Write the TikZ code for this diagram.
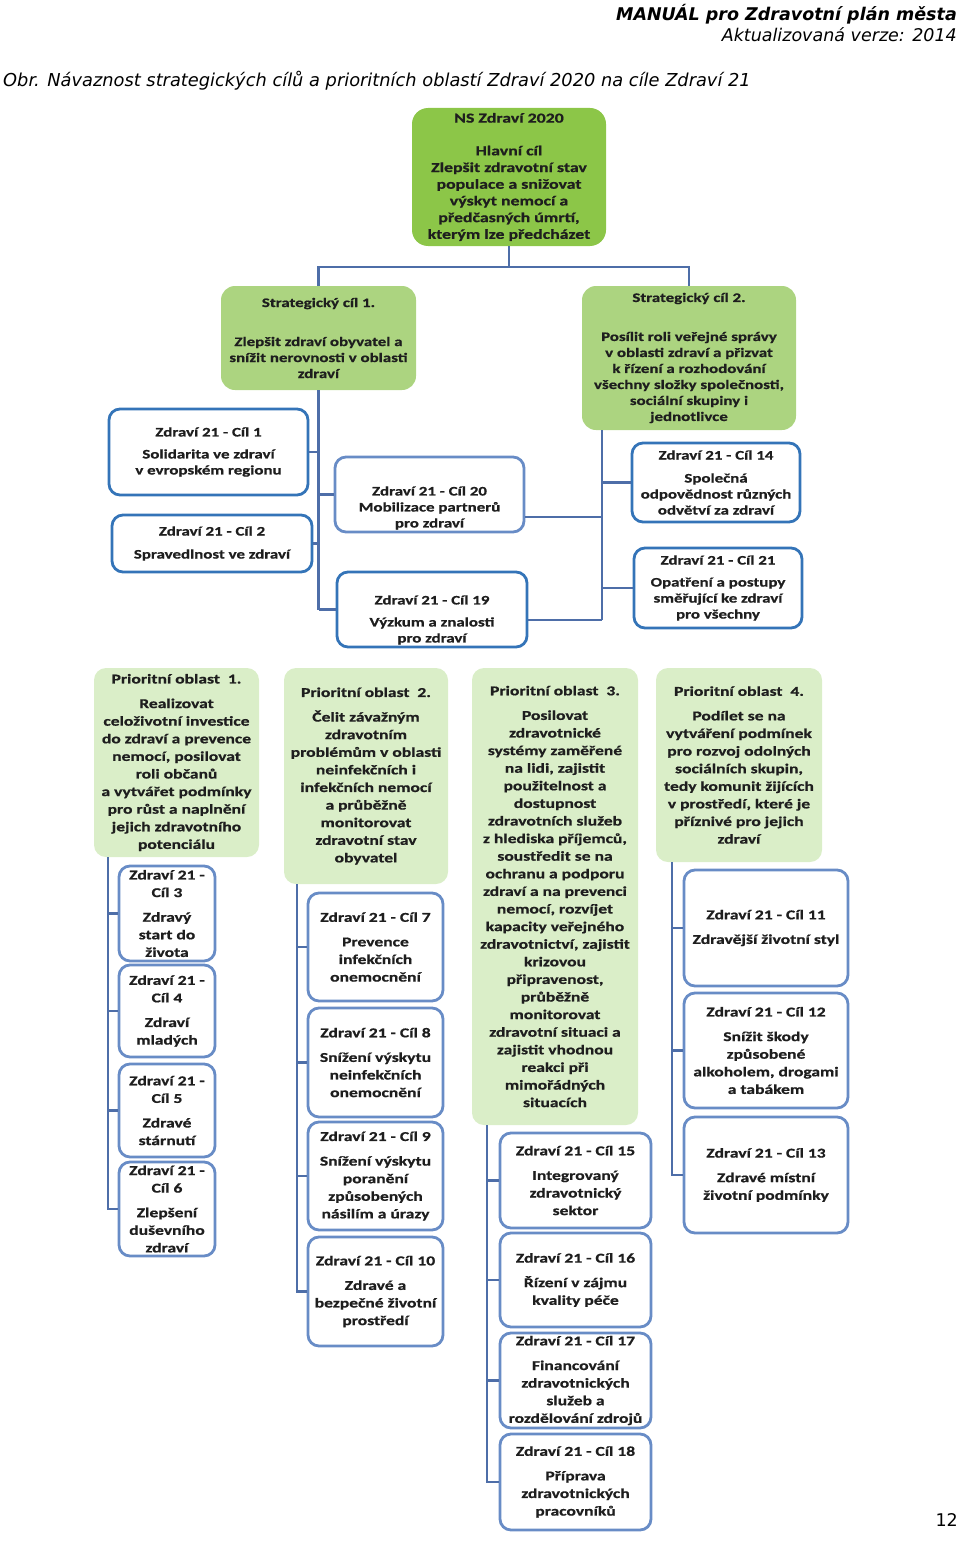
\documentclass[tikz,border=0pt]{standalone}
\usepackage{fontspec}
\setmainfont{Carlito}[FakeStretch=1.3, BoldFeatures={FakeBold=0.8}]
\newfontfamily\verdana{DejaVu Sans}

\definecolor{nszelena}{RGB}{140,198,72}
\definecolor{stzelena}{RGB}{172,212,128}
\definecolor{pozelena}{RGB}{218,238,200}
\definecolor{okraj}{RGB}{52,116,184}
\definecolor{okrajb}{RGB}{104,140,198}
\definecolor{spojnice}{RGB}{78,110,168}
\definecolor{pismo}{RGB}{30,30,30}

\begin{document}
\begin{tikzpicture}[x=1pt,y=-1pt]
\tikzstyle{every node}=[font=\fontsize{13}{16}\selectfont\bfseries, align=center, text=pismo, inner sep=0pt]
\tikzstyle{hlavni}=[fill=nszelena, rounded corners=16pt, font=\fontsize{13.7}{16.7}\selectfont\bfseries]
\tikzstyle{strategie}=[fill=stzelena, rounded corners=14pt]
\tikzstyle{oblast}=[fill=pozelena, rounded corners=12pt, font=\fontsize{13.5}{17.6}\selectfont\bfseries]
\tikzstyle{cil}=[draw=okraj, line width=2.8pt, fill=white, rounded corners=11pt]
\tikzstyle{cilb}=[cil, draw=okrajb, font=\fontsize{13.5}{17.6}\selectfont\bfseries]
\tikzstyle{spoj}=[draw=spojnice, line width=2.6pt]
\tikzstyle{hlavicka}=[text=black, font=\verdana\fontsize{17.5}{20}\selectfont\itshape]

\useasboundingbox (0,0) rectangle (960,1541);

% page header and caption
\node[hlavicka, anchor=base east, font=\verdana\fontsize{17.5}{20}\selectfont\bfseries\itshape] (manual) at (957,21) {MANUÁL pro Zdravotní plán města};
\node[hlavicka, anchor=base east] (verze) at (957,42) {Aktualizovaná verze: 2014};
\node[hlavicka, anchor=base west, font=\verdana\fontsize{17.8}{20}\selectfont\itshape] (obr) at (3,87) {Obr. Návaznost strategických cílů a prioritních oblastí Zdraví 2020 na cíle Zdraví 21};
\node[hlavicka, anchor=base east, font=\verdana\fontsize{17.5}{20}\selectfont] (strana) at (958,1526) {12};

% main goal and strategic goals
\node[hlavni, minimum width=194pt, minimum height=138pt] (ns) at (509,177)
  {NS Zdraví 2020\\[16pt]Hlavní cíl\\Zlepšit zdravotní stav\\populace a snižovat\\výskyt nemocí a\\předčasných úmrtí,\\kterým lze předcházet};
\node[strategie, minimum width=195pt, minimum height=104pt] (s1) at (318.5,338)
  {Strategický cíl 1.\\[23pt]Zlepšit zdraví obyvatel a\\snížit nerovnosti v oblasti\\zdraví};
\node[strategie, minimum width=214pt, minimum height=144pt] (s2) at (689,358)
  {Strategický cíl 2.\\[23pt]Posílit roli veřejné správy\\v oblasti zdraví a přizvat\\k řízení a rozhodování\\všechny složky společnosti,\\sociální skupiny i\\jednotlivce};

% goals of the strategic part
\node[cil, minimum width=199pt, minimum height=86pt] (c1) at (208.5,452)
  {Zdraví 21 - Cíl 1\\[6pt]Solidarita ve zdraví\\v evropském regionu};
\node[cil, minimum width=200pt, minimum height=57pt] (c2) at (212,543.5)
  {Zdraví 21 - Cíl 2\\[7pt]Spravedlnost ve zdraví};
\node[cil, draw=okrajb, minimum width=189pt, minimum height=75pt] (c20) at (429.5,494.5)
  {\rule{0pt}{36pt}Zdraví 21 - Cíl 20\\Mobilizace partnerů\\pro zdraví};
\node[cil, minimum width=190pt, minimum height=75pt] (c19) at (432,609.5)
  {\rule{0pt}{30pt}Zdraví 21 - Cíl 19\\[6pt]Výzkum a znalosti\\pro zdraví};
\node[cil, minimum width=168pt, minimum height=79pt] (c14) at (716,482.5)
  {Zdraví 21 - Cíl 14\\[7pt]Společná\\odpovědnost různých\\odvětví za zdraví};
\node[cil, minimum width=168pt, minimum height=80pt] (c21) at (718,588)
  {Zdraví 21 - Cíl 21\\[6pt]Opatření a postupy\\směřující ke zdraví\\pro všechny};

% priority areas
\node[oblast, minimum width=165pt, minimum height=189pt] (po1) at (176.5,762.5)
  {Prioritní oblast\ \ 1.\\[7pt]Realizovat\\celoživotní investice\\do zdraví a prevence\\nemocí, posilovat\\roli občanů\\a vytvářet podmínky\\pro růst a naplnění\\jejich zdravotního\\potenciálu};
\node[oblast, minimum width=164pt, minimum height=216pt] (po2) at (366,776)
  {Prioritní oblast\ \ 2.\\[7pt]Čelit závažným\\zdravotním\\problémům v oblasti\\neinfekčních i\\infekčních nemocí\\a průběžně\\monitorovat\\zdravotní stav\\obyvatel};
\node[oblast, minimum width=166pt, minimum height=457pt] (po3) at (555,896.5)
  {Prioritní oblast\ \ 3.\\[7pt]Posilovat\\zdravotnické\\systémy zaměřené\\na lidi, zajistit\\použitelnost a\\dostupnost\\zdravotních služeb\\z hlediska příjemců,\\soustředit se na\\ochranu a podporu\\zdraví a na prevenci\\nemocí, rozvíjet\\kapacity veřejného\\zdravotnictví, zajistit\\krizovou\\připravenost,\\průběžně\\monitorovat\\zdravotní situaci a\\zajistit vhodnou\\reakci při\\mimořádných\\situacích};
\node[oblast, minimum width=166pt, minimum height=194pt] (po4) at (739,765)
  {Prioritní oblast\ \ 4.\\[7pt]Podílet se na\\vytváření podmínek\\pro rozvoj odolných\\sociálních skupin,\\tedy komunit žijících\\v prostředí, které je\\příznivé pro jejich\\zdraví};

% goals under priority area 1
\node[cilb, minimum width=96pt, minimum height=95pt] (c3) at (167,913.5) {Zdraví 21 -\\Cíl 3\\[7pt]Zdravý\\start do\\života};
\node[cilb, minimum width=96pt, minimum height=92pt] (c4) at (167,1011) {Zdraví 21 -\\Cíl 4\\[7pt]Zdraví\\mladých};
\node[cilb, minimum width=96pt, minimum height=93pt] (c5) at (167,1110.5) {Zdraví 21 -\\Cíl 5\\[7pt]Zdravé\\stárnutí};
\node[cilb, minimum width=96pt, minimum height=94pt] (c6) at (167,1209) {Zdraví 21 -\\Cíl 6\\[7pt]Zlepšení\\duševního\\zdraví};

% goals under priority area 2
\node[cilb, minimum width=135pt, minimum height=108pt] (c7) at (375.5,947) {Zdraví 21 - Cíl 7\\[7pt]Prevence\\infekčních\\onemocnění};
\node[cilb, minimum width=135pt, minimum height=109pt] (c8) at (375.5,1062.5) {Zdraví 21 - Cíl 8\\[7pt]Snížení výskytu\\neinfekčních\\onemocnění};
\node[cilb, minimum width=135pt, minimum height=108pt] (c9) at (375.5,1176) {Zdraví 21 - Cíl 9\\[7pt]Snížení výskytu\\poranění\\způsobených\\násilím a úrazy};
\node[cilb, minimum width=135pt, minimum height=109pt] (c10) at (375.5,1291.5) {Zdraví 21 - Cíl 10\\[7pt]Zdravé a\\bezpečné životní\\prostředí};

% goals under priority area 3
\node[cilb, minimum width=151pt, minimum height=95pt] (c15) at (575.5,1180.5) {Zdraví 21 - Cíl 15\\[7pt]Integrovaný\\zdravotnický\\sektor};
\node[cilb, minimum width=151pt, minimum height=94pt] (c16) at (575.5,1280) {Zdraví 21 - Cíl 16\\[7pt]Řízení v zájmu\\kvality péče};
\node[cilb, minimum width=151pt, minimum height=95pt] (c17) at (575.5,1380.5) {Zdraví 21 - Cíl 17\\[7pt]Financování\\zdravotnických\\služeb a\\rozdělování zdrojů};
\node[cilb, minimum width=151pt, minimum height=96pt] (c18) at (575.5,1482) {Zdraví 21 - Cíl 18\\[7pt]Příprava\\zdravotnických\\pracovníků};

% goals under priority area 4
\node[cilb, minimum width=164pt, minimum height=116pt] (c11) at (766,928) {Zdraví 21 - Cíl 11\\[7pt]Zdravější životní styl};
\node[cilb, minimum width=164pt, minimum height=115pt] (c12) at (766,1050.5) {Zdraví 21 - Cíl 12\\[7pt]Snížit škody\\způsobené\\alkoholem, drogami\\a tabákem};
\node[cilb, minimum width=164pt, minimum height=116pt] (c13) at (766,1175) {Zdraví 21 - Cíl 13\\[7pt]Zdravé místní\\životní podmínky};

% connectors of the top part
\coordinate (rozv) at (509,267);
\coordinate (k2) at ([xshift=20pt]s2.south west);
\draw[spoj] (ns.south) -- (rozv);
\draw[spoj] (s1.north) |- (rozv) -| (s2.north);
\draw[spoj] (s1.south) -- (s1.south |- c19.west);
\foreach \c in {c1,c2} \draw[spoj] (s1.south |- \c.east) -- (\c.east);
\foreach \c in {c20,c19} \draw[spoj] (s1.south |- \c.west) -- (\c.west);
\draw[spoj] (k2) -- (k2 |- 0,620);
\foreach \c in {c14,c21} \draw[spoj] (k2 |- \c.west) -- (\c.west);
\draw[spoj] (k2 |- 0,517) -- (c20.east |- 0,517);
\draw[spoj] (k2 |- 0,620) -- (c19.east |- 0,620);

% connectors of the priority areas
\foreach \po/\dx/\cile in {po1/14/{c3,c4,c5,c6}, po2/13/{c7,c8,c9,c10}, po3/15/{c15,c16,c17,c18}, po4/16/{c11,c12,c13}} {
  \coordinate (k) at ([xshift=\dx pt]\po.south west);
  \foreach \c in \cile {
    \draw[spoj] (k) -- (k |- \c.west) -- (\c.west);
  }
}

\end{tikzpicture}
\end{document}
